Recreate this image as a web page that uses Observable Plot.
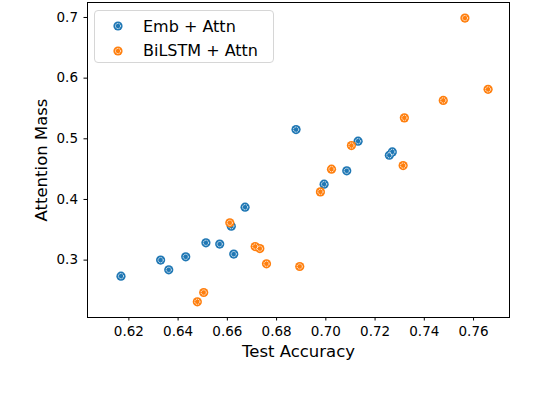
<!DOCTYPE html>
<html><head><meta charset="utf-8">
<script src="https://cdn.jsdelivr.net/npm/d3@7"></script>
<script src="https://cdn.jsdelivr.net/npm/@observablehq/plot@0.6"></script>
<style>
body{margin:0;background:#fff;font-family:"DejaVu Sans",sans-serif}
#wrap{position:relative;width:544px;height:394px}
.legend{position:absolute;left:94px;top:10px;width:180px;height:53px;border:1px solid #d6d6d6;border-radius:4px;background:rgba(255,255,255,0.8);box-sizing:border-box;font-size:16px;color:#000}
.item{position:absolute;left:0;height:20px;display:flex;align-items:center}
.item svg{margin-left:18px;margin-right:20px}
</style></head>
<body><div id="wrap"></div>
<script>
const series = ["Emb + Attn", "BiLSTM + Attn"];
const colors = ["#1f77b4", "#ff7f0e"];
const embX = [0.6168,0.6329,0.6362,0.6431,0.6513,0.6569,0.6626,0.6616,0.6672,0.6879,0.6993,0.7085,0.7131,0.7258,0.7270];
const embY = [0.2736,0.300,0.284,0.3054,0.3285,0.3264,0.3099,0.356,0.3873,0.5152,0.4252,0.4472,0.4961,0.4729,0.4784];
const lstmX = [0.6478,0.6504,0.6610,0.6713,0.6732,0.6759,0.6894,0.6978,0.7023,0.7104,0.7314,0.7319,0.7477,0.7565,0.7659];
const lstmY = [0.2313,0.2466,0.3615,0.3224,0.319,0.2939,0.2895,0.4125,0.45,0.4889,0.4558,0.5345,0.5633,0.699,0.5815];
const xTicks = [0.62,0.64,0.66,0.68,0.70,0.72,0.74,0.76];
const yTicks = [0.3,0.4,0.5,0.6,0.7];

const emb = embX.map((x,i)=>({x, y: embY[i]}));
const lstm = lstmX.map((x,i)=>({x, y: lstmY[i]}));

const markers = (data, c) => [
  Plot.dot(data, {x:"x", y:"y", r:4.6, fill:c, stroke:"none"}),
  Plot.dot(data, {x:"x", y:"y", r:2.6, fill:"none", stroke:"white", strokeWidth:0.9, strokeDasharray:"1.3,0.8"})
];

const chart = Plot.plot({
  width: 544, height: 394,
  marginLeft: 87, marginRight: 35, marginTop: 2, marginBottom: 77,
  style: {fontFamily: "DejaVu Sans", fontSize: "13.5px", color: "#000", background: "#fff"},
  x: {domain: [0.6032, 0.7746]},
  y: {domain: [0.2054, 0.7247]},
  marks: [
    ...markers(emb, colors[0]),
    ...markers(lstm, colors[1]),
    Plot.frame({stroke: "#000", strokeWidth: 1}),
    Plot.axisX({ticks: xTicks, tickFormat: d3.format(".2f"), tickSize: 3.5, tickPadding: 5, label: "Test Accuracy", labelAnchor: "center", labelArrow: "none", labelOffset: 39, fontSize: 13.5}),
    Plot.axisY({ticks: yTicks, tickFormat: d3.format(".1f"), tickSize: 3.5, tickPadding: 6, label: "Attention Mass", labelAnchor: "center", labelArrow: "none", labelOffset: 52, fontSize: 13.5})
  ]
});
d3.select(chart).selectAll("[aria-label='x-axis label'] text, [aria-label='y-axis label'] text").style("font-size","16.5px");
const wrap = document.getElementById("wrap");
wrap.appendChild(chart);

const lg = document.createElement("div");
lg.className = "legend";
series.forEach((s,i)=>{
  const it = document.createElement("div");
  it.className = "item";
  it.style.top = (5 + i*24.5) + "px";
  it.innerHTML = `<svg width="10" height="10" viewBox="-5 -5 10 10"><circle r="4.6" fill="${colors[i]}"/><circle r="2.6" fill="none" stroke="white" stroke-width="0.9" stroke-dasharray="1.3,0.8"/></svg><span>${s}</span>`;
  lg.appendChild(it);
});
wrap.appendChild(lg);
</script></body></html>
